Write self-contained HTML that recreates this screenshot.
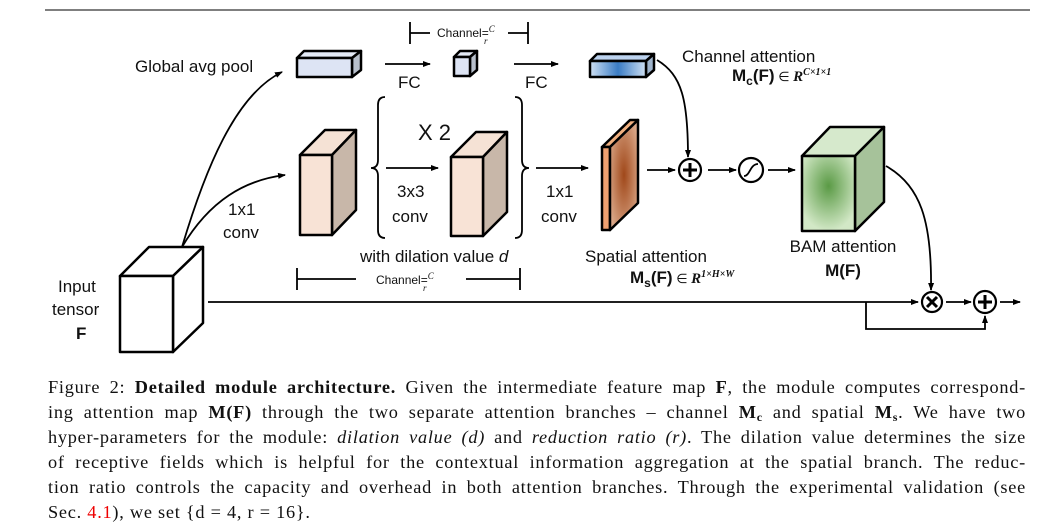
<!DOCTYPE html>
<html><head><meta charset="utf-8"><style>
body{margin:0;background:#fff;width:1049px;height:530px;overflow:hidden;position:relative}
svg{position:absolute;left:0;top:0}
.cap{position:absolute;left:48px;top:375px;width:978px;font-family:"Liberation Serif",serif;font-size:18.3px;line-height:25px;text-align:justify;color:#111;letter-spacing:0.75px}
.cap .l{display:block;height:25px;text-align-last:justify;white-space:nowrap}
.cap .l:last-child{text-align-last:left}
.cap sub{font-size:12px;line-height:0;vertical-align:-3px}
</style></head><body>
<svg width="1049" height="530" viewBox="0 0 1049 530" font-family="Liberation Sans, sans-serif">
<defs>
<marker id="a" markerWidth="8" markerHeight="8" refX="7" refY="4" orient="auto" markerUnits="userSpaceOnUse"><path d="M0,1 L8,4 L0,7z" fill="#000"/></marker>
<linearGradient id="bl" x1="0" x2="1"><stop offset="0" stop-color="#cfe0f3"/><stop offset="0.5" stop-color="#3a7cc4"/><stop offset="1" stop-color="#cfe0f3"/></linearGradient>
<radialGradient id="gr" cx="0.5" cy="0.4" r="0.6"><stop offset="0" stop-color="#5a9a45"/><stop offset="1" stop-color="#d2e8c6"/></radialGradient>
<radialGradient id="br" cx="0.5" cy="0.5" r="0.6"><stop offset="0" stop-color="#a0481a"/><stop offset="1" stop-color="#dba98a"/></radialGradient>
</defs>
<line x1="45" y1="10" x2="1030" y2="10" stroke="#555" stroke-width="1.5"/>
<g stroke="#000" stroke-width="2.5" stroke-linejoin="round">
<path d="M297,58 L304,51 L361,51 L352,58z" fill="#e3e9f5"/>
<path d="M352,58 L361,51 L361,70 L352,77z" fill="#b8c0cc"/>
<rect x="297" y="58" width="55" height="19" fill="#dde4f4"/>
<path d="M454,57 L460,51 L477,51 L470,57z" fill="#e3e9f5"/>
<path d="M470,57 L477,51 L477,70 L470,76z" fill="#b8c0cc"/>
<rect x="454" y="57" width="16" height="19" fill="#dde4f4"/>
<path d="M590,61 L597,54 L654,54 L646,61z" fill="#bcd2ee"/>
<path d="M646,61 L654,54 L654,70 L646,77z" fill="#9fb4cc"/>
<rect x="590" y="61" width="56" height="16" fill="url(#bl)"/>
<path d="M300,155 L325,130 L356,130 L332,155z" fill="#f5e2d5"/>
<path d="M332,155 L356,130 L356,210 L332,235z" fill="#c8b7a9"/>
<rect x="300" y="155" width="32" height="80" fill="#f8e3d6"/>
<path d="M451,157 L476,132 L507,132 L483,157z" fill="#f5e2d5"/>
<path d="M483,157 L507,132 L507,212 L483,236z" fill="#c8b7a9"/>
<rect x="451" y="157" width="32" height="79" fill="#f8e3d6"/>
<path d="M602,147 L630,120 L638,120 L610,147z" fill="#f0b080"/>
<rect x="602" y="147" width="8" height="83" fill="#eea070"/>
<path d="M610,147 L638,120 L638,203 L610,230z" fill="url(#br)"/>
<path d="M802,156 L830,127 L884,127 L855,156z" fill="#d6e9cc"/>
<path d="M855,156 L884,127 L884,202 L855,231z" fill="#a6c29a"/>
<rect x="802" y="156" width="53" height="75" fill="url(#gr)"/>
<path d="M120,276 L149,247 L203,247 L173,276z" fill="#fff"/>
<path d="M173,276 L203,247 L203,323 L173,352z" fill="#fff"/>
<rect x="120" y="276" width="53" height="76" fill="#fff"/>
</g>
<g stroke="#000" stroke-width="1.8" fill="none">
<path d="M182,247 C205,170 235,95 282,72" marker-end="url(#a)"/>
<path d="M182,247 C210,200 245,180 285,175" marker-end="url(#a)"/>
<line x1="385" y1="64" x2="430" y2="64" marker-end="url(#a)"/>
<line x1="514" y1="64" x2="558" y2="64" marker-end="url(#a)"/>
<line x1="386" y1="168" x2="438" y2="168" marker-end="url(#a)"/>
<line x1="536" y1="168" x2="588" y2="168" marker-end="url(#a)"/>
<line x1="647" y1="170" x2="675" y2="170" marker-end="url(#a)"/>
<line x1="708" y1="170" x2="736" y2="170" marker-end="url(#a)"/>
<line x1="768" y1="170" x2="795" y2="170" marker-end="url(#a)"/>
<path d="M657,60 C682,75 688,100 688,157" marker-end="url(#a)"/>
<path d="M886,166 C920,185 932,220 931,290" marker-end="url(#a)"/>
<line x1="208" y1="302" x2="918" y2="302" marker-end="url(#a)"/>
<path d="M866,302 L866,329 L985,329 L985,316" marker-end="url(#a)"/>
<line x1="946" y1="302" x2="971" y2="302" marker-end="url(#a)"/>
<line x1="1000" y1="302" x2="1020" y2="302" marker-end="url(#a)"/>
<line x1="410" y1="22" x2="410" y2="44"/><line x1="528" y1="22" x2="528" y2="44"/>
<line x1="410" y1="33" x2="430" y2="33"/><line x1="508" y1="33" x2="528" y2="33"/>
<line x1="297" y1="268" x2="297" y2="290"/><line x1="520" y1="268" x2="520" y2="290"/>
<line x1="297" y1="279" x2="356" y2="279"/><line x1="466" y1="279" x2="520" y2="279"/>
<path d="M385,97 Q378,97 378,105 L378,160 Q378,168 371,168 Q378,168 378,176 L378,230 Q378,238 385,238"/>
<path d="M515,97 Q522,97 522,105 L522,160 Q522,168 529,168 Q522,168 522,176 L522,230 Q522,238 515,238"/>
<circle cx="690" cy="170" r="11" stroke-width="2.2"/>
<circle cx="751" cy="170" r="12" stroke-width="2.2"/>
<circle cx="932" cy="302" r="10" stroke-width="2.2"/>
<circle cx="985" cy="302" r="11" stroke-width="2.2"/>
<path d="M744,176 C750,176 750,164 758,164"/>
</g>
<g stroke="#000" stroke-width="3">
<line x1="683" y1="170" x2="697" y2="170"/><line x1="690" y1="163" x2="690" y2="177"/>
<line x1="978" y1="302" x2="992" y2="302"/><line x1="985" y1="295" x2="985" y2="309"/>
<line x1="927" y1="297" x2="937" y2="307"/><line x1="937" y1="297" x2="927" y2="307"/>
</g>
<g font-size="17" fill="#111">
<text x="135" y="72">Global avg pool</text>
<text x="398" y="88">FC</text>
<text x="525" y="88">FC</text>
<text x="682" y="62">Channel attention</text>
<text x="732" y="81" font-weight="bold">M<tspan font-size="12" dy="4">c</tspan><tspan dy="-4">(F)</tspan><tspan font-weight="normal" font-size="13"> ∈ </tspan><tspan font-family="Liberation Serif, serif" font-style="italic" font-size="15">R</tspan><tspan font-family="Liberation Serif, serif" font-style="italic" font-size="10" dy="-6">C×1×1</tspan></text>
<text x="418" y="140" font-size="22">X 2</text>
<text x="397" y="197">3x3</text><text x="392" y="222">conv</text>
<text x="546" y="197">1x1</text><text x="541" y="222">conv</text>
<text x="228" y="215">1x1</text><text x="223" y="238">conv</text>
<text x="360" y="262">with dilation value <tspan font-style="italic">d</tspan></text>
<text x="585" y="262">Spatial attention</text>
<text x="630" y="283" font-weight="bold">M<tspan font-size="12" dy="4">s</tspan><tspan dy="-4">(F)</tspan><tspan font-weight="normal" font-size="13"> ∈ </tspan><tspan font-family="Liberation Serif, serif" font-style="italic" font-size="15">R</tspan><tspan font-family="Liberation Serif, serif" font-style="italic" font-size="10" dy="-6">1×H×W</tspan></text>
<text x="843" y="252" text-anchor="middle">BAM attention</text>
<text x="843" y="276" text-anchor="middle" font-weight="bold">M(F)</text>
<text x="58" y="292">Input</text>
<text x="52" y="315">tensor</text>
<text x="76" y="339" font-weight="bold">F</text>
<text x="437" y="37" font-size="12">Channel=<tspan font-family="Liberation Serif, serif" font-style="italic" font-size="9" dy="-5">C</tspan></text>
<text x="484" y="44" font-size="9" font-family="Liberation Serif, serif" font-style="italic">r</text>
<text x="376" y="284" font-size="12">Channel=<tspan font-family="Liberation Serif, serif" font-style="italic" font-size="9" dy="-5">C</tspan></text>
<text x="423" y="291" font-size="9" font-family="Liberation Serif, serif" font-style="italic">r</text>
</g>
</svg>
<div class="cap">
<span class="l">Figure 2: <b>Detailed module architecture.</b> Given the intermediate feature map <b>F</b>, the module computes correspond-</span>
<span class="l">ing attention map <b>M(F)</b> through the two separate attention branches – channel <b>M<sub>c</sub></b> and spatial <b>M<sub>s</sub></b>. We have two</span>
<span class="l">hyper-parameters for the module: <i>dilation value (d)</i> and <i>reduction ratio (r)</i>. The dilation value determines the size</span>
<span class="l">of receptive fields which is helpful for the contextual information aggregation at the spatial branch. The reduc-</span>
<span class="l">tion ratio controls the capacity and overhead in both attention branches. Through the experimental validation (see</span>
<span class="l">Sec. <span style="color:#e00">4.1</span>), we set {d = 4, r = 16}.</span>
</div>
</body></html>
